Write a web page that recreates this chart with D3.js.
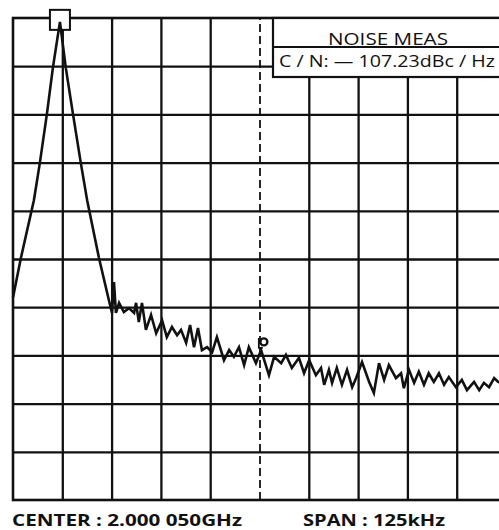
<!DOCTYPE html>
<html>
<head>
<meta charset="utf-8">
<script src="https://cdn.jsdelivr.net/npm/d3@7"></script>
<style>
  body { margin: 0; background: #fff; }
  svg { display: block; }
  .label { font-family: "Open Sans", "Noto Sans", sans-serif; fill: #111; }
</style>
</head>
<body>
<svg id="chart" width="499" height="530"></svg>
<script>
// spectrum trace: offset from center (kHz) and level (dB, 10 dB/div from top)
const freqs = [-62.5, -60.5, -57.2, -55.7, -53.9, -52.4, -50.6,
  -49.1, -47.3, -45.3, -43.7, -40.7, -38.2, -37.4,
  -36.9, -36.4, -35.6, -34.4, -33.1, -31.8, -31.3, -30.6, -29.8, -28.8, -27.5, -26.2,
  -24.7, -23.5, -22.2, -20.9, -19.9, -18.6, -17.6, -16.6, -15.6, -14.6, -13.3, -12.0,
  -10.8, -9.0, -7.7, -6.5, -5.2, -3.9, -2.7, -0.9, 0.4, 2.4, 3.7, 5.5, 6.7, 8.2,
  10.0, 11.3, 12.6, 14.3, 15.6, 16.4, 17.6, 18.4, 19.6, 20.9, 22.2, 23.5, 24.5, 26.0,
  27.8, 29.0, 30.3, 31.6, 32.8, 34.6, 35.9, 36.6, 37.9, 39.2, 40.4, 41.7, 42.9, 44.2,
  45.5, 46.8, 48.0, 49.8, 51.3, 52.6, 54.4, 55.7, 56.9, 58.2, 59.5, 60.5, 62.5];
const levels = [-58.0, -49.8, -37.8, -30.1, -19.9, -10.4, -0.8,
  -10.4, -19.9, -30.1, -37.8, -49.8, -58.5, -61.2,
  -54.8, -61.2, -59.1, -61.0, -60.2, -61.2, -59.1, -63.1, -59.1, -64.7, -61.6, -65.4,
  -62.7, -66.2, -64.1, -65.8, -64.7, -67.4, -63.7, -68.3, -64.3, -68.9, -68.3, -69.3,
  -66.2, -71.0, -68.9, -70.3, -68.3, -72.0, -68.3, -71.6, -68.9, -74.1, -70.3, -71.6, -69.9, -72.6,
  -70.5, -73.7, -71.0, -74.1, -72.6, -76.1, -73.0, -75.7, -72.6, -76.1, -73.0, -76.6, -74.7, -71.4,
  -75.5, -77.8, -71.6, -75.1, -72.0, -74.7, -73.7, -76.8, -73.0, -75.7, -73.4, -76.1, -73.7, -75.5,
  -73.7, -76.1, -74.5, -76.6, -75.1, -77.2, -75.5, -77.2, -75.7, -76.6, -74.7, -75.5, -76.0];

const xTicks = [-50, -37.5, -25, -12.5, 12.5, 25, 37.5, 50];
const centerTick = [0];
const yTicks = [-10, -20, -30, -40, -50, -60, -70, -80, -90];

const peakMarker = [-50.6, -0.8];
const noiseMarker = [1.1, -67.2];

const noiseTitle = "NOISE MEAS";
const noiseValue = "C / N: \u2014 107.23dBc / Hz";
const centerLabel = "CENTER : 2.000 050GHz";
const spanLabel = "SPAN : 125kHz";

const svg = d3.select("#chart");
const x = d3.scaleLinear().domain([-62.5, 62.5]).range([13, 506]);
const y = d3.scaleLinear().domain([0, -100]).range([18, 500]);
const gTop = y(0), gBottom = y(-100), gLeft = x(-62.5), gRight = x(62.5);

// grid
const grid = svg.append("g");
grid.append("g")
    .attr("transform", "translate(0," + gBottom + ")")
    .call(d3.axisBottom(x).tickValues(xTicks).tickSize(-(gBottom - gTop)).tickFormat(""))
    .call(g => g.select(".domain").remove())
    .call(g => g.selectAll("line").attr("stroke", "#111").attr("stroke-width", 2.3));
grid.append("g")
    .attr("transform", "translate(" + gLeft + ",0)")
    .call(d3.axisLeft(y).tickValues(yTicks).tickSize(-(gRight - gLeft)).tickFormat(""))
    .call(g => g.select(".domain").remove())
    .call(g => g.selectAll("line").attr("stroke", "#111").attr("stroke-width", 2.3));
grid.append("g")
    .attr("transform", "translate(0," + gBottom + ")")
    .call(d3.axisBottom(x).tickValues(centerTick).tickSize(-(gBottom - gTop)).tickFormat(""))
    .call(g => g.select(".domain").remove())
    .call(g => g.selectAll("line").attr("stroke", "#111").attr("stroke-width", 1.8)
                 .attr("stroke-dasharray", "8,4"));

svg.append("rect")
   .attr("x", gLeft).attr("y", gTop)
   .attr("width", gRight - gLeft).attr("height", gBottom - gTop)
   .attr("fill", "none").attr("stroke", "#111").attr("stroke-width", 2.6);

// noise measurement box
const boxX = 273, boxY = gTop, boxW = 240, boxH = 59;
svg.append("rect")
   .attr("x", boxX).attr("y", boxY).attr("width", boxW).attr("height", boxH)
   .attr("fill", "#fff").attr("stroke", "#111").attr("stroke-width", 2.2);
svg.append("line")
   .attr("x1", boxX).attr("x2", boxX + boxW)
   .attr("y1", boxY + 29).attr("y2", boxY + 29)
   .attr("stroke", "#111").attr("stroke-width", 2);
svg.append("text").attr("class", "label")
   .attr("x", 328).attr("y", 45)
   .attr("textLength", 120).attr("lengthAdjust", "spacingAndGlyphs")
   .style("font-size", "17px").text(noiseTitle);
svg.append("text").attr("class", "label")
   .attr("x", 279).attr("y", 67)
   .attr("textLength", 216).attr("lengthAdjust", "spacingAndGlyphs")
   .style("font-size", "17px").text(noiseValue);

// peak marker box
svg.append("rect")
   .attr("x", x(peakMarker[0]) - 10).attr("y", y(peakMarker[1]) - 12)
   .attr("width", 20).attr("height", 20)
   .attr("fill", "#fff").attr("stroke", "#111").attr("stroke-width", 2);

// trace
const trace = freqs.map((f, i) => [f, levels[i]]);
svg.append("path")
   .datum(trace)
   .attr("fill", "none")
   .attr("stroke", "#111")
   .attr("stroke-width", 2.6)
   .attr("stroke-linejoin", "miter")
   .attr("d", d3.line().x(d => x(d[0])).y(d => y(d[1])));

// noise marker
svg.append("path")
   .attr("d", "M" + (x(noiseMarker[0]) - 5) + "," + (y(noiseMarker[1]) - 4) +
              "v10h4")
   .attr("fill", "none").attr("stroke", "#111").attr("stroke-width", 1.8);
svg.append("circle")
   .attr("cx", x(noiseMarker[0])).attr("cy", y(noiseMarker[1]))
   .attr("r", 3.5)
   .attr("fill", "#fff").attr("stroke", "#111").attr("stroke-width", 2.4);

// bottom labels
svg.append("text").attr("class", "label")
   .attr("x", 12).attr("y", 526)
   .attr("textLength", 230).attr("lengthAdjust", "spacingAndGlyphs")
   .style("font-size", "16.5px").style("font-weight", "bold").text(centerLabel);
svg.append("text").attr("class", "label")
   .attr("x", 303).attr("y", 526)
   .attr("textLength", 142).attr("lengthAdjust", "spacingAndGlyphs")
   .style("font-size", "16.5px").style("font-weight", "bold").text(spanLabel);
</script>
</body>
</html>
